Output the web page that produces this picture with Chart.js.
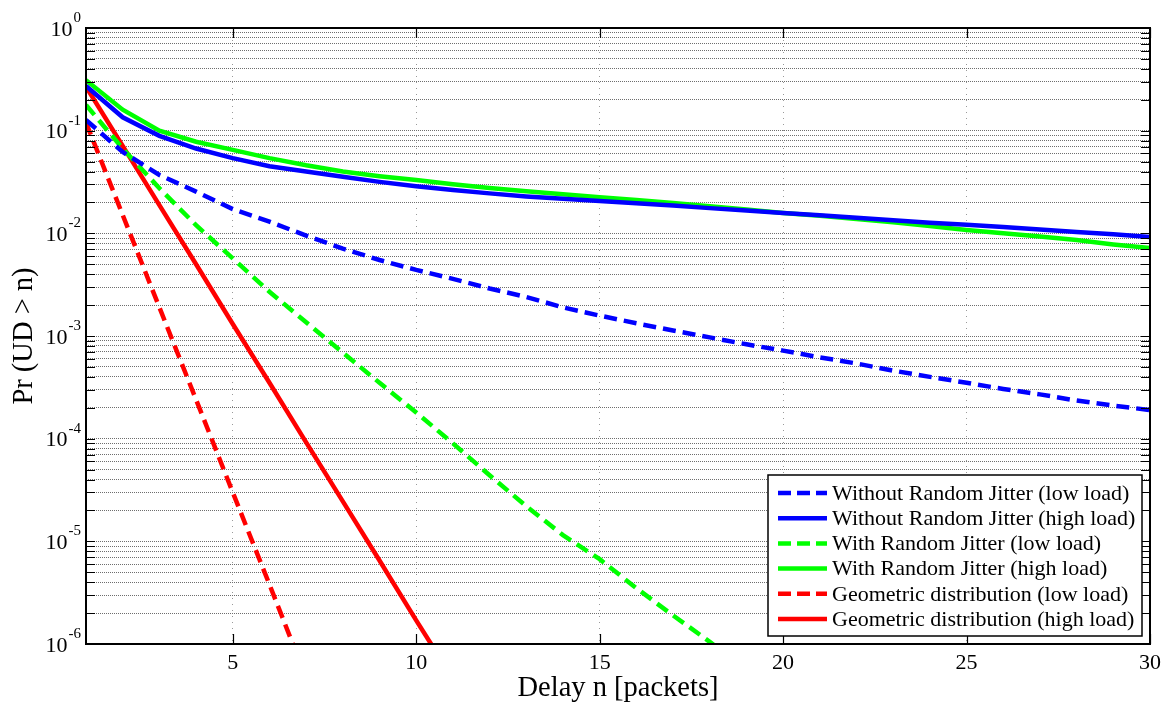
<!DOCTYPE html>
<html>
<head>
<meta charset="utf-8">
<script src="https://cdn.jsdelivr.net/npm/chart.js@4.4.1/dist/chart.umd.min.js"></script>
<style>
  html, body { margin: 0; padding: 0; background: #fff; }
  #wrap { width: 1163px; height: 704px; }
</style>
</head>
<body>
<div id="wrap"><canvas id="c" width="1163" height="704"></canvas></div>
<script>
// Delay n [packets]
const delays = [1,2,3,4,5,6,7,8,9,10,11,12,13,14,15,16,17,18,19,20,21,22,23,24,25,26,27,28,29,30];

// Pr(UD > n) for each scenario
const noJitterLow = [0.127,0.062,0.037,0.0255,0.0172,0.013,0.0095,0.0071,0.0055,0.0044,0.0036,0.0029,0.0024,0.0019,0.00158,0.00133,0.00113,0.00097,0.00083,0.00072,0.00062,0.00054,0.00046,0.0004,0.00035,0.000305,0.00027,0.000235,0.00021,0.00019];
const noJitterHigh = [0.272,0.135,0.089,0.067,0.054,0.045,0.040,0.0355,0.0317,0.0287,0.0264,0.0245,0.0229,0.0217,0.0206,0.0196,0.0187,0.0176,0.0167,0.0158,0.015,0.0142,0.0134,0.0127,0.0121,0.0115,0.0109,0.0103,0.0098,0.0092];
const jitterLow = [0.178,0.067,0.0275,0.012,0.0057,0.0027,0.00136,0.00069,0.00035,0.00018,0.00009,0.000044,0.000022,0.0000115,0.0000067,0.0000035,0.0000019,0.00000105,0.00000056];
const jitterHigh = [0.31,0.16,0.10,0.078,0.065,0.054,0.046,0.040,0.036,0.033,0.030,0.0277,0.0257,0.024,0.0225,0.0211,0.0197,0.0184,0.0171,0.0158,0.0148,0.0138,0.0128,0.0118,0.0108,0.0100,0.0093,0.0086,0.0078,0.0072];
const geoLow = [0.12,0.0151,0.0019,0.00024,0.00003,0.0000038,0.00000047];
const geoHigh = [0.268,0.071,0.0188,0.005,0.00131,0.00035,0.000092,0.0000245,0.0000065,0.0000017,0.00000046];

// Axis ticks
const xTickValues = [5,10,15,20,25,30];
const yExponents = [-6,-5,-4,-3,-2,-1,0];

const seriesNames = [
  'Without Random Jitter (low load)',
  'Without Random Jitter (high load)',
  'With Random Jitter (low load)',
  'With Random Jitter (high load)',
  'Geometric distribution (low load)',
  'Geometric distribution (high load)'
];

const BLUE = '#0000ff', GREEN = '#00ff00', RED = '#ff0000';
const DASH = [13, 7];
const SERIF = '"Liberation Serif", "Times New Roman", serif';

function pts(values) {
  return values.map((v, i) => ({ x: delays[i], y: v }));
}

function ds(label, values, color, dashed) {
  return {
    label: label,
    data: pts(values),
    borderColor: color,
    backgroundColor: color,
    borderWidth: 4.5,
    borderDash: dashed ? DASH : [],
    pointRadius: 0,
    tension: 0,
    fill: false
  };
}

const datasets = [
  ds(seriesNames[0], noJitterLow, BLUE, true),
  ds(seriesNames[1], noJitterHigh, BLUE, false),
  ds(seriesNames[2], jitterLow, GREEN, true),
  ds(seriesNames[3], jitterHigh, GREEN, false),
  ds(seriesNames[4], geoLow, RED, true),
  ds(seriesNames[5], geoHigh, RED, false)
];

// log-axis ticks at 1..9 x 10^e
const yTickValues = [];
yExponents.forEach(e => {
  for (let m = 1; m <= 9; m++) {
    const v = m * Math.pow(10, e);
    if (v <= 1.0000001) yTickValues.push(v);
  }
});

const decorations = {
  id: 'decorations',
  afterDraw(chart) {
    const ctx = chart.ctx;
    const a = chart.chartArea;
    const xs = chart.scales.x, ys = chart.scales.y;
    ctx.save();

    // inward tick marks on all four sides
    ctx.strokeStyle = '#000';
    ctx.lineWidth = 1.2;
    ctx.beginPath();
    yTickValues.forEach(v => {
      const y = Math.round(ys.getPixelForValue(v)) + 0.5;
      ctx.moveTo(a.left, y); ctx.lineTo(a.left + 9, y);
      ctx.moveTo(a.right, y); ctx.lineTo(a.right - 9, y);
    });
    xTickValues.forEach(v => {
      const x = Math.round(xs.getPixelForValue(v)) + 0.5;
      ctx.moveTo(x, a.bottom); ctx.lineTo(x, a.bottom - 10);
      ctx.moveTo(x, a.top); ctx.lineTo(x, a.top + 10);
    });
    ctx.stroke();

    // frame
    ctx.lineWidth = 2;
    ctx.strokeRect(a.left, a.top, a.right - a.left, a.bottom - a.top);

    // y tick labels 10^e
    ctx.fillStyle = '#000';
    ctx.textBaseline = 'middle';
    yExponents.forEach(e => {
      const y = ys.getPixelForValue(Math.pow(10, e));
      const exp = String(e);
      ctx.font = '15px ' + SERIF;
      const ew = ctx.measureText(exp).width;
      ctx.textAlign = 'left';
      ctx.fillText(exp, a.left - 5 - ew, y - 10);
      ctx.font = '22px ' + SERIF;
      ctx.textAlign = 'right';
      ctx.fillText('10', a.left - 6 - ew, y + 2);
    });

    // x tick labels
    ctx.font = '22px ' + SERIF;
    ctx.textAlign = 'center';
    ctx.textBaseline = 'middle';
    xTickValues.forEach(v => {
      ctx.fillText(String(v), xs.getPixelForValue(v), a.bottom + 19);
    });

    // axis titles
    ctx.font = '28.5px ' + SERIF;
    ctx.fillText('Delay n [packets]', (a.left + a.right) / 2, 689);
    ctx.save();
    ctx.translate(25, (a.top + a.bottom) / 2);
    ctx.rotate(-Math.PI / 2);
    ctx.fillText('Pr (UD > n)', 0, 0);
    ctx.restore();

    // legend box
    const lx = 768, ly = 475, lw = 374, lh = 161;
    ctx.fillStyle = '#fff';
    ctx.fillRect(lx, ly, lw, lh);
    ctx.strokeStyle = '#000';
    ctx.lineWidth = 1.5;
    ctx.strokeRect(lx, ly, lw, lh);
    ctx.font = '22px ' + SERIF;
    ctx.textAlign = 'left';
    ctx.textBaseline = 'middle';
    chart.data.datasets.forEach((d, i) => {
      const y = ly + 18 + i * 25.2;
      ctx.strokeStyle = d.borderColor;
      ctx.lineWidth = 4.5;
      ctx.setLineDash(d.borderDash.length ? [13, 6] : []);
      ctx.beginPath();
      ctx.moveTo(lx + 10, y); ctx.lineTo(lx + 59, y);
      ctx.stroke();
      ctx.setLineDash([]);
      ctx.fillStyle = '#000';
      ctx.fillText(d.label, lx + 64, y + 1);
    });

    ctx.restore();
  }
};

new Chart(document.getElementById('c'), {
  type: 'line',
  data: { datasets: datasets },
  options: {
    responsive: false,
    animation: false,
    layout: { padding: { left: 86, right: 13, top: 28, bottom: 60 } },
    plugins: { legend: { display: false }, tooltip: { enabled: false } },
    scales: {
      x: {
        type: 'linear',
        min: 1, max: 30,
        afterBuildTicks: s => { s.ticks = xTickValues.map(v => ({ value: v })); },
        ticks: { display: false },
        grid: {
          drawTicks: false,
          color: ctx => (ctx.tick && ctx.tick.value === 30) ? 'rgba(0,0,0,0)' : '#9a9a9a',
          lineWidth: 1
        },
        border: { display: false, dash: [1, 5] }
      },
      y: {
        type: 'logarithmic',
        min: 1e-6, max: 1,
        afterBuildTicks: s => { s.ticks = yTickValues.map(v => ({ value: v })); },
        ticks: { display: false },
        grid: {
          drawTicks: false,
          color: '#6e6e6e',
          lineWidth: 1
        },
        border: { display: false, dash: [1, 1] }
      }
    }
  },
  plugins: [decorations]
});
</script>
</body>
</html>
